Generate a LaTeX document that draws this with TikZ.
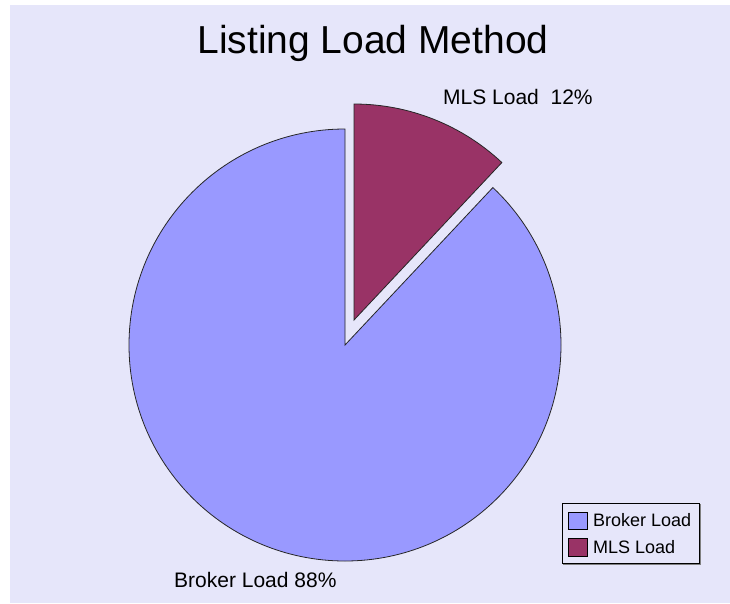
\documentclass[tikz,border=0pt]{standalone}
\usepackage{fontspec}
\setmainfont{Liberation Sans}
\definecolor{chartbg}{HTML}{E6E6FA}
\definecolor{brokerfill}{HTML}{9999FF}
\definecolor{mlsfill}{HTML}{993366}
\begin{document}
\begin{tikzpicture}[x=1pt,y=1pt,
  slice/.style={draw=black!85,line width=0.8pt,line join=miter},
  swatch/.style={draw=black,line width=0.8pt},
  lbl/.style={inner sep=0pt,anchor=base west,font=\fontsize{21}{23}\selectfont},
  legtext/.style={inner sep=0pt,anchor=base west,font=\fontsize{18}{20}\selectfont}]
\useasboundingbox (0,0) rectangle (730,-603);
% chart area
\fill[chartbg] (10,-5) rectangle (730,-603);
% title
\node[inner sep=0pt,anchor=base,font=\fontsize{39}{41}\selectfont] (title) at (373,-53) {Listing Load Method};
% pie: Broker Load 88%, MLS Load 12% (exploded)
\draw[slice,fill=brokerfill] (345,-345) -- ++(90:216) arc[start angle=90,end angle=406.8,radius=216] -- cycle;
\draw[slice,fill=mlsfill] (354,-320) -- ++(46.8:216) arc[start angle=46.8,end angle=90,radius=216] -- cycle;
% data labels
\node[lbl] (mlslabel) at (443,-104) {MLS Load~~12\%};
\node[lbl] (brokerlabel) at (174,-587) {Broker Load 88\%};
% legend
\draw[gray,line width=1.5pt] (563,-564) -- (700,-564) -- (700,-504);
\draw[black,line width=0.8pt,fill=chartbg] (562,-503) rectangle (699,-563);
\draw[swatch,fill=brokerfill] (568,-512) rectangle (587,-529);
\draw[swatch,fill=mlsfill] (568,-538) rectangle (587,-556);
\node[legtext] (legbroker) at (593,-526) {Broker Load};
\node[legtext] (legmls) at (593,-553) {MLS Load};
\end{tikzpicture}
\end{document}
